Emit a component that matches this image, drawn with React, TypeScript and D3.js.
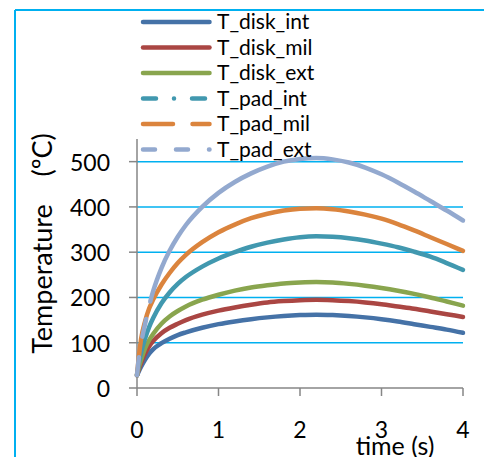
import React from 'react';
import * as d3 from 'd3';

const TIMES = [0, 0.02, 0.05, 0.1, 0.15, 0.2, 0.3, 0.4, 0.5, 0.6, 0.8, 1.0, 1.2, 1.4, 1.6, 1.8, 2.0, 2.2, 2.4, 2.6, 2.8, 3.0, 3.2, 3.4, 3.6, 3.8, 4.0];

const T_disk_int = [28, 36, 47, 63, 76, 86, 99, 109, 117, 123, 133, 141, 147, 152, 156, 159, 161, 162, 161, 159, 156, 152, 147, 141, 135, 129, 122];
const T_disk_mil = [28, 40, 55, 76, 92, 104, 121, 133, 142, 150, 162, 171, 178, 184, 189, 192, 194, 195, 194, 192, 189, 185, 180, 175, 169, 163, 157];
const T_disk_ext = [28, 44, 62, 88, 106, 120, 142, 158, 170, 180, 195, 206, 215, 222, 227, 231, 233, 234, 233, 230, 226, 221, 215, 208, 200, 191, 182];
const T_pad_int = [28, 52, 78, 110, 135, 155, 187, 211, 230, 245, 268, 286, 300, 312, 321, 328, 333, 335, 334, 331, 326, 319, 311, 301, 290, 276, 261];
const T_pad_mil = [28, 65, 108, 148, 176, 196, 228, 254, 276, 294, 322, 344, 361, 375, 385, 392, 396, 397, 395, 390, 383, 374, 362, 348, 333, 318, 303];
const T_pad_ext = [28, 62, 98, 142, 182, 215, 265, 303, 334, 360, 400, 431, 455, 474, 489, 500, 506, 508, 505, 498, 487, 472, 454, 434, 413, 392, 370];

const SERIES_NAMES = ['T_disk_int', 'T_disk_mil', 'T_disk_ext', 'T_pad_int', 'T_pad_mil', 'T_pad_ext'];
const SERIES_VALUES = [T_disk_int, T_disk_mil, T_disk_ext, T_pad_int, T_pad_mil, T_pad_ext];
const SERIES_COLORS = ['#4572A7', '#AA4643', '#89A54E', '#4198AF', '#DB843D', '#93A9CF'];
const LEGEND_DASH = [null, null, null, '13,18,0.01,18', '30,19.5', '12,21'];
const CHART_DASH = [null, null, null, null, null, '18,21,18,18,5000'];

const Y_TICKS = [0, 100, 200, 300, 400, 500];
const X_TICKS = [0, 1, 2, 3, 4];

const FONT = "Lato, 'Open Sans', sans-serif";

export default function App() {
  const x = d3.scaleLinear().domain([0, 4]).range([137, 463]);
  const y = d3.scaleLinear().domain([0, 550]).range([388, 139]);
  const line = d3
    .line<number>()
    .x((_, i) => x(TIMES[i]))
    .y((d) => y(d))
    .curve(d3.curveMonotoneX);

  const axisColor = '#868686';
  const gridColor = '#00B0F0';
  const legendY = d3.scaleLinear().domain([0, 5]).range([22, 149.5]);

  return (
    <svg
      width={484}
      height={457}
      style={{ position: 'absolute', left: 0, top: 0, background: '#fff' }}
      fontFamily={FONT}
    >
      <rect x={0} y={0} width={484} height={457} fill="#fff" />
      {/* frame */}
      <line x1={15} y1={10} x2={484} y2={10} stroke={gridColor} strokeWidth={2} />
      <line x1={15} y1={10} x2={15} y2={457} stroke={gridColor} strokeWidth={2} />

      {/* gridlines */}
      {Y_TICKS.filter((t) => t > 0).map((t) => (
        <line key={'g' + t} x1={x(0)} x2={x(4)} y1={y(t)} y2={y(t)} stroke={gridColor} strokeWidth={1.5} />
      ))}

      {/* axes */}
      <line x1={x(0)} x2={x(0)} y1={y(550)} y2={y(0)} stroke={axisColor} strokeWidth={1.5} />
      <line x1={x(0)} x2={x(4)} y1={y(0)} y2={y(0)} stroke={axisColor} strokeWidth={1.5} />
      {Y_TICKS.map((t) => (
        <line key={'yt' + t} x1={x(0) - 8} x2={x(0)} y1={y(t)} y2={y(t)} stroke={axisColor} strokeWidth={1.5} />
      ))}
      {X_TICKS.map((t) => (
        <line key={'xt' + t} x1={x(t)} x2={x(t)} y1={y(0)} y2={y(0) + 8} stroke={axisColor} strokeWidth={1.5} />
      ))}

      {/* tick labels */}
      {Y_TICKS.map((t) => (
        <text key={'yl' + t} x={110} y={y(t) + 9} textAnchor="end" fontSize={23} fill="#000">
          {t}
        </text>
      ))}
      {X_TICKS.map((t) => (
        <text key={'xl' + t} x={x(t)} y={438} textAnchor="middle" fontSize={23} fill="#000">
          {t}
        </text>
      ))}

      {/* series */}
      {SERIES_VALUES.map((vals, i) => (
        <path
          key={'s' + i}
          d={line(vals) || ''}
          fill="none"
          stroke={SERIES_COLORS[i]}
          strokeWidth={4.5}
          strokeLinecap="round"
          strokeLinejoin="round"
          strokeDasharray={CHART_DASH[i] || undefined}
        />
      ))}

      {/* axis titles */}
      <text x={395} y={455} textAnchor="middle" fontSize={25} fill="#000">
        time (s)
      </text>
      <text
        transform={`translate(52, 243.5) rotate(-90)`}
        textAnchor="middle"
        fontSize={27}
        fill="#000"
        style={{ whiteSpace: 'pre' }}
      >
        {'Temperature    (ºC)'}
      </text>

      {/* legend */}
      {SERIES_NAMES.map((name, i) => (
        <g key={'lg' + i}>
          <line
            x1={143}
            x2={209.5}
            y1={legendY(i)}
            y2={legendY(i)}
            stroke={SERIES_COLORS[i]}
            strokeWidth={4.5}
            strokeLinecap="round"
            strokeDasharray={LEGEND_DASH[i] || undefined}
          />
          <text x={217} y={legendY(i) + 7} fontSize={21} fill="#000">
            {name}
          </text>
        </g>
      ))}
    </svg>
  );
}
